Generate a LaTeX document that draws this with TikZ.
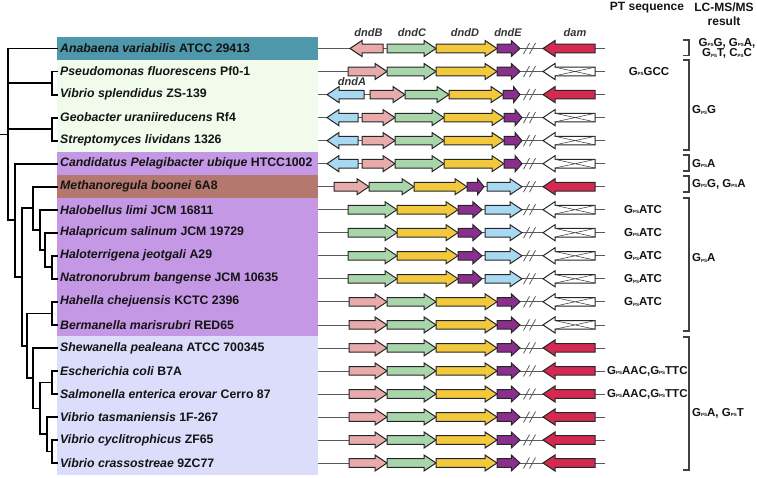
\documentclass[tikz,border=0pt]{standalone}
\usepackage{fontspec}
\setmainfont{Liberation Sans}
\definecolor{cB}{HTML}{E8AAAA}
\definecolor{cC}{HTML}{A9D5AA}
\definecolor{cD}{HTML}{F2C83C}
\definecolor{cE}{HTML}{8A2F8E}
\definecolor{cA}{HTML}{A9D8F2}
\definecolor{damred}{HTML}{D42A52}
\definecolor{bgteal}{HTML}{4F97AA}
\definecolor{bggreen}{HTML}{F0FBEC}
\definecolor{bgpurple}{HTML}{C598E6}
\definecolor{bgbrown}{HTML}{B4786F}
\definecolor{bglav}{HTML}{DCDCFB}
\definecolor{lbl}{HTML}{333333}
\definecolor{ink}{HTML}{141414}
\newcommand\PS{\raisebox{-0.6pt}{\fontsize{4.5}{4.5}\selectfont PS}}
\newcommand\gR[4]{\pgfmathsetmacro\hl{min(12,0.38*(#2-#1))}%
\draw[gene,fill=#4] (#1,#3-4.3) -- ({#2-\hl},#3-4.3) -- ({#2-\hl},#3-8) -- (#2,#3) -- ({#2-\hl},#3+8) -- ({#2-\hl},#3+4.3) -- (#1,#3+4.3) -- cycle;}
\newcommand\gL[4]{\pgfmathsetmacro\hl{min(12,0.38*(#2-#1))}%
\draw[gene,fill=#4] (#2,#3-4.3) -- ({#1+\hl},#3-4.3) -- ({#1+\hl},#3-8) -- (#1,#3) -- ({#1+\hl},#3+8) -- ({#1+\hl},#3+4.3) -- (#2,#3+4.3) -- cycle;}
\newcommand\rline[1]{\draw[rowline] (318,#1) -- (605,#1);
\draw[rowline] (523.5,#1+5.5) -- (529.5,#1-5.5) (529.5,#1+5.5) -- (535.5,#1-5.5);}
\newcommand\damR[1]{\gL{543}{595}{#1}{damred}}
\newcommand\damW[1]{\gL{543}{595}{#1}{white}\draw[xl] (555,#1-4.3) -- (595,#1+4.3) (555,#1+4.3) -- (595,#1-4.3);}
\newcommand\patBCDE[1]{\gR{349}{387}{#1}{cB}\gR{387}{436}{#1}{cC}\gR{436}{497}{#1}{cD}\gR{497}{520}{#1}{cE}}
\newcommand\patABCDE[1]{\gL{327}{358}{#1}{cA}\gR{362}{395}{#1}{cB}\gR{395}{444}{#1}{cC}\gR{444}{504}{#1}{cD}\gR{504}{522}{#1}{cE}}
\newcommand\patCDEA[1]{\gR{348}{397}{#1}{cC}\gR{397}{458}{#1}{cD}\gR{458}{482}{#1}{cE}\gR{485}{522}{#1}{cA}}
\begin{document}
\begin{tikzpicture}[x=1pt,y=-1pt,
  gene/.style={draw=black!85,line width=1pt,line join=miter},
  rowline/.style={draw=black!65,line width=0.8pt},
  xl/.style={draw=black!75,line width=0.55pt},
  tree/.style={draw=black,line width=1.8pt,line cap=rect,line join=miter},
  brk/.style={draw=black!75,line width=1.4pt,line join=miter},
  sp/.style={anchor=west,inner sep=0pt,text=ink,font=\fontsize{12.3}{12}\selectfont\bfseries},
  gl/.style={inner sep=0pt,text=lbl,font=\fontsize{11}{11}\selectfont\bfseries\itshape},
  hd/.style={inner sep=0pt,text=ink,font=\fontsize{12}{14}\selectfont\bfseries,align=center},
  pt/.style={inner sep=0pt,text=ink,font=\fontsize{11.5}{12}\selectfont\bfseries}]
\useasboundingbox (0,0) rectangle (757,477);
% backgrounds
\fill[bgteal] (57,37) rectangle (318,60);
\fill[bggreen] (57,60) rectangle (318,152.2);
\fill[bgpurple] (57,152.2) rectangle (318,175.2);
\fill[bgbrown] (57,175.2) rectangle (318,198.2);
\fill[bgpurple] (57,198.2) rectangle (318,336.4);
\fill[bglav] (57,336.4) rectangle (318,474.5);
% species labels
\node[sp] (s1) at (60,48.5) {\textit{Anabaena variabilis} ATCC 29413};
\node[sp] (s2) at (60,71.5) {\textit{Pseudomonas fluorescens} Pf0-1};
\node[sp] (s3) at (60,94.6) {\textit{Vibrio splendidus} ZS-139};
\node[sp] (s4) at (60,117.6) {\textit{Geobacter uraniireducens} Rf4};
\node[sp] (s5) at (60,140.6) {\textit{Streptomyces lividans} 1326};
\node[sp] (s6) at (60,163.7) {\textit{Candidatus Pelagibacter ubique} HTCC1002};
\node[sp] (s7) at (60,186.7) {\textit{Methanoregula boonei} 6A8};
\node[sp] (s8) at (60,209.7) {\textit{Halobellus limi} JCM 16811};
\node[sp] (s9) at (60,232.7) {\textit{Halapricum salinum} JCM 19729};
\node[sp] (s10) at (60,255.8) {\textit{Haloterrigena jeotgali} A29};
\node[sp] (s11) at (60,278.8) {\textit{Natronorubrum bangense} JCM 10635};
\node[sp] (s12) at (60,301.8) {\textit{Hahella chejuensis} KCTC 2396};
\node[sp] (s13) at (60,324.9) {\textit{Bermanella marisrubri} RED65};
\node[sp] (s14) at (60,347.9) {\textit{Shewanella pealeana} ATCC 700345};
\node[sp] (s15) at (60,370.9) {\textit{Escherichia coli} B7A};
\node[sp] (s16) at (60,394.0) {\textit{Salmonella enterica erovar} Cerro 87};
\node[sp] (s17) at (60,417.0) {\textit{Vibrio tasmaniensis} 1F-267};
\node[sp] (s18) at (60,440.0) {\textit{Vibrio cyclitrophicus} ZF65};
\node[sp] (s19) at (60,463.0) {\textit{Vibrio crassostreae} 9ZC77};
% tree
\foreach \i/\y in {1/48.5,2/71.5,3/94.6,4/117.6,5/140.6,6/163.7,7/186.7,8/209.7,9/232.7,10/255.8,11/278.8,12/301.8,13/324.9,14/347.9,15/370.9,16/394.0,17/417.0,18/440.0,19/463.0}
  {\coordinate (L\i) at (57,\y);}
\coordinate (P1) at (52,83.0);
\coordinate (P2) at (52,129.1);
\coordinate (P3) at (52,267.3);
\coordinate (P4) at (52,313.4);
\coordinate (P5) at (52,382.5);
\coordinate (P6) at (52,451.5);
\coordinate (N9) at (47,434.3);
\coordinate (N8) at (40,408.4);
\coordinate (N7) at (33,378.1);
\coordinate (N6) at (27,345.8);
\coordinate (N5) at (45,250.0);
\coordinate (N4) at (40,229.9);
\coordinate (N3) at (33,208.3);
\coordinate (N2) at (22,277.0);
\coordinate (N1) at (15,220.3);
\coordinate (R) at (8,134.4);
\coordinate (R0) at (0,134.4);
\draw[tree] (L2) -| (P1) |- (L3);
\draw[tree] (L4) -| (P2) |- (L5);
\draw[tree] (L10) -| (P3) |- (L11);
\draw[tree] (L12) -| (P4) |- (L13);
\draw[tree] (L15) -| (P5) |- (L16);
\draw[tree] (L18) -| (P6) |- (L19);
\draw[tree] (L17) -| (N9) |- (P6);
\draw[tree] (P5) -| (N8) |- (N9);
\draw[tree] (L14) -| (N7) |- (N8);
\draw[tree] (P4) -| (N6) |- (N7);
\draw[tree] (L9) -| (N5) |- (P3);
\draw[tree] (L8) -| (N4) |- (N5);
\draw[tree] (L7) -| (N3) |- (N4);
\draw[tree] (N3) -| (N2) |- (N6);
\draw[tree] (L6) -| (N1) |- (N2);
\draw[tree] (L1) -| (R) |- (N1);
\draw[tree] (R) |- (P1);
\draw[tree] (R) |- (P2);
\draw[tree] (R0) -- (R);
% row lines
\foreach \y in {48.5,71.5,94.6,117.6,140.6,163.7,186.7,209.7,232.7,255.8,278.8,301.8,324.9,347.9,370.9,394.0,417.0,440.0,463.0}
  {\rline{\y}}
% genes
\gL{350}{383}{48.5}{cB}\gR{387}{436}{48.5}{cC}\gR{436}{497}{48.5}{cD}\gR{497}{520}{48.5}{cE}\damR{48.5}
\gR{348}{387}{71.5}{cB}\gR{387}{436}{71.5}{cC}\gR{436}{497}{71.5}{cD}\gR{497}{520}{71.5}{cE}\damW{71.5}
\gL{327}{364}{94.6}{cA}\gR{370}{405}{94.6}{cB}\gR{405}{449}{94.6}{cC}\gR{449}{503}{94.6}{cD}\gR{503}{520}{94.6}{cE}\damR{94.6}
\patABCDE{117.6}\damW{117.6}
\patABCDE{140.6}\damW{140.6}
\patABCDE{163.7}\damW{163.7}
\gR{334}{369}{186.7}{cB}\gR{369}{414}{186.7}{cC}\gR{414}{467}{186.7}{cD}\gR{467}{484}{186.7}{cE}\gR{487}{522}{186.7}{cA}\damR{186.7}
\patCDEA{209.7}\damW{209.7}
\patCDEA{232.7}\damW{232.7}
\patCDEA{255.8}\damW{255.8}
\patCDEA{278.8}\damW{278.8}
\patBCDE{301.8}\damW{301.8}
\patBCDE{324.9}\damW{324.9}
\foreach \y in {347.9,370.9,394.0,417.0,440.0,463.0} {\patBCDE{\y}\damR{\y}}
% gene labels
\node[gl] (labB) at (368.5,32.5) {dndB};
\node[gl] (labC) at (412,32.5) {dndC};
\node[gl] (labD) at (465,32.5) {dndD};
\node[gl] (labE) at (508,32.5) {dndE};
\node[gl] (labdam) at (575,32.5) {dam};
\node[gl] (labA) at (352,82) {dndA};
% headers
\node[hd] (hpt) at (647,8) {PT sequence};
\node[hd] (hlc) at (724,14.5) {LC-MS/MS\\result};
% PT sequences
\node[pt] (pt2) at (649,71.5) {G\PS GCC};
\foreach \y [count=\k] in {209.7,232.7,255.8,278.8,301.8}
  {\node[pt] (ptA\k) at (643,\y) {G\PS ATC};}
\node[pt,anchor=west] (pt15) at (607,370.9) {G\PS AAC,G\PS TTC};
\node[pt,anchor=west] (pt16) at (607,394.0) {G\PS AAC,G\PS TTC};
% LC-MS brackets
\draw[brk] (683,40) -- (689,40) -- (689,55.5) -- (683,55.5);
\draw[brk] (683,60) -- (689,60) -- (689,150) -- (683,150);
\draw[brk] (683,155) -- (689,155) -- (689,171) -- (683,171);
\draw[brk] (683,176) -- (689,176) -- (689,192) -- (683,192);
\draw[brk] (683,198) -- (689,198) -- (689,331) -- (683,331);
\draw[brk] (683,337) -- (689,337) -- (689,470) -- (683,470);
\node[pt,align=center,font=\fontsize{11.5}{10.5}\selectfont\bfseries] (r1) at (727,48.5) {G\PS G, G\PS A,\\G\PS T, C\PS C};
\node[pt,anchor=west] (r2) at (692,110) {G\PS G};
\node[pt,anchor=west] (r3) at (692,163.5) {G\PS A};
\node[pt,anchor=west] (r4) at (692,184) {G\PS G, G\PS A};
\node[pt,anchor=west] (r5) at (692,258) {G\PS A};
\node[pt,anchor=west] (r6) at (692,413) {G\PS A, G\PS T};
\end{tikzpicture}
\end{document}
